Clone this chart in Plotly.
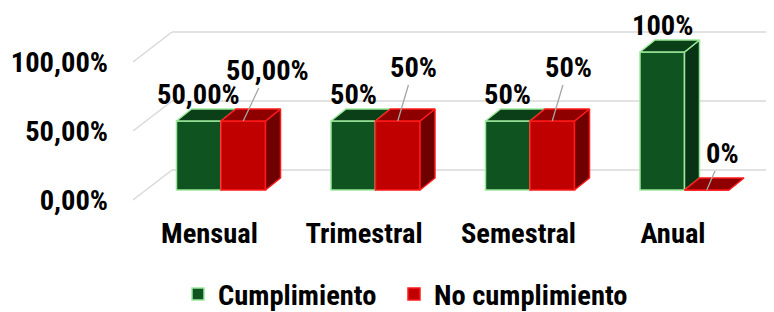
import plotly.graph_objects as go

# ---------------- data ----------------
categories = ["Mensual", "Trimestral", "Semestral", "Anual"]
cumplimiento = [0.50, 0.50, 0.50, 1.00]
no_cumplimiento = [0.50, 0.50, 0.50, 0.00]
cumplimiento_labels = ["50,00%", "50%", "50%", "100%"]
no_cumplimiento_labels = ["50,00%", "50%", "50%", "0%"]
y_ticks = [0.0, 0.5, 1.0]

# ---------------- style / geometry ----------------
FONT = "Roboto Condensed, Open Sans Condensed, Liberation Sans, sans-serif"
FS = 28.5
PAGE_OFF = 8                     # default body margin of the html page
W, H = 774 - PAGE_OFF, 312
ML, MR, MT = 133 - PAGE_OFF, 3, 20 - PAGE_OFF
MB = H - (205 - PAGE_OFF)
PW = W - ML - MR
PH = H - MT - MB
PX_X = 154.5          # px per category
PX_Y = 138.0          # px per 100 %
BAR_W = 0.288         # category units
DEPTH_X = 15 / PX_X   # 3D depth
DEPTH_Y = 12 / PX_Y

X0 = -88 / PX_X
X1 = X0 + PW / PX_X
SPAN_Y = PH / PX_Y
Y0 = -15 / PX_Y                 # bars (front faces)
YL0 = -5 / PX_Y                 # tick labels (front floor edge)
YG0 = -35 / PX_Y                # back wall grid
XLAB_SHIFT = 11.5 / PX_X        # category labels sit a bit left

GREEN = dict(front="#0E5320", top="#0A3F17", side="#083314", edge="#9BE89B")
RED = dict(front="#C00000", top="#8E0000", side="#6E0000", edge="#FF1A1A")
GRID = "#D9D9D9"
LEADER = "#A6A6A6"
red_dx = [24, 16, 16, 16]
red_dy = [-51, -54, -54, -37]

TXT = dict(family=FONT, size=FS, color="black", weight="bold")

idx = list(range(len(categories)))
fig = go.Figure()


def faces(values, left_offset, col, xa, ya):
    for i, v in zip(idx, values):
        xl = i + left_offset
        xr = xl + BAR_W
        if v > 0:
            fig.add_trace(go.Scatter(
                x=[xr, xr + DEPTH_X, xr + DEPTH_X, xr, xr],
                y=[0, DEPTH_Y, v + DEPTH_Y, v, 0],
                fill="toself", fillcolor=col["side"], mode="lines",
                line=dict(color=col["edge"], width=1.5),
                showlegend=False, hoverinfo="skip", xaxis=xa, yaxis=ya))
        fig.add_trace(go.Scatter(
            x=[xl, xr, xr + DEPTH_X, xl + DEPTH_X, xl],
            y=[v, v, v + DEPTH_Y, v + DEPTH_Y, v],
            fill="toself", fillcolor=col["top"], mode="lines",
            line=dict(color=col["edge"], width=1.5),
            showlegend=False, hoverinfo="skip", xaxis=xa, yaxis=ya))


# green series on main subplot
fig.add_trace(go.Bar(
    x=idx, y=cumplimiento, width=BAR_W, offset=-BAR_W, name="Cumplimiento",
    legend="legend",
    marker=dict(color=GREEN["front"], line=dict(color=GREEN["edge"], width=1.5)),
    xaxis="x", yaxis="y"))
faces(cumplimiento, -BAR_W, GREEN, "x", "y")

# invisible trace to carry the label axes
fig.add_trace(go.Scatter(x=[0], y=[0], mode="markers", marker=dict(opacity=0),
                         showlegend=False, hoverinfo="skip", xaxis="x2", yaxis="y2"))

# red series on overlay subplot (drawn above green)
fig.add_trace(go.Bar(
    x=idx, y=no_cumplimiento, width=BAR_W, offset=0, name="No cumplimiento",
    legend="legend2",
    marker=dict(color=RED["front"], line=dict(color=RED["edge"], width=1.5)),
    xaxis="x3", yaxis="y3"))
faces(no_cumplimiento, 0, RED, "x3", "y3")


def py(v, r0):
    return (v - r0) / SPAN_Y


xb = 39 / PW
shapes = []
for v in y_ticks:
    shapes.append(dict(type="line", xref="paper", yref="paper", x0=xb, x1=1,
                       y0=py(v, YG0), y1=py(v, YG0), line=dict(color=GRID, width=1.5),
                       layer="below"))
    shapes.append(dict(type="line", xref="paper", yref="paper", x0=0, x1=xb,
                       y0=py(v, YL0), y1=py(v, YG0), line=dict(color=GRID, width=1.5),
                       layer="below"))

annotations = []
for i, v, t in zip(idx, cumplimiento, cumplimiento_labels):
    annotations.append(dict(x=i - BAR_W / 2, y=v, xref="x", yref="y", text=t,
                            showarrow=False, yanchor="middle", yshift=27, font=TXT))
for i, v, t, dx, dy in zip(idx, no_cumplimiento, no_cumplimiento_labels, red_dx, red_dy):
    annotations.append(dict(x=i + BAR_W / 2, y=v, xref="x3", yref="y3", text=t,
                            showarrow=True, arrowhead=0, arrowwidth=1.3,
                            arrowcolor=LEADER, ax=dx, ay=dy, standoff=0, font=TXT))

hidden = dict(showgrid=False, zeroline=False, showticklabels=False, showline=False,
              ticks="", fixedrange=True, automargin=False)
leg = dict(orientation="h", xref="container", yref="container", y=0.0,
           xanchor="left", yanchor="bottom", font=TXT, bgcolor="rgba(0,0,0,0)")

fig.update_layout(
    width=W, height=H,
    margin=dict(l=ML, r=MR, t=MT, b=MB, autoexpand=False),
    paper_bgcolor="white", plot_bgcolor="white",
    separators=",.",
    barmode="overlay",
    font=TXT,
    xaxis=dict(range=[X0, X1], **hidden),
    yaxis=dict(range=[Y0, Y0 + SPAN_Y], **hidden),
    xaxis3=dict(range=[X0, X1], overlaying="x", anchor="y3", **hidden),
    yaxis3=dict(range=[Y0, Y0 + SPAN_Y], overlaying="y", anchor="x3", **hidden),
    xaxis2=dict(range=[X0 + XLAB_SHIFT, X1 + XLAB_SHIFT], overlaying="x", anchor="y2",
                tickvals=idx, ticktext=categories, showgrid=False, zeroline=False,
                showline=False, ticks="", ticklabelstandoff=8, fixedrange=True,
                automargin=False, tickfont=TXT),
    yaxis2=dict(range=[YL0, YL0 + SPAN_Y], overlaying="y", anchor="x2", side="left",
                tickvals=y_ticks, tickformat=".2%", showgrid=False, zeroline=False,
                showline=False, ticks="", ticklabelstandoff=24, fixedrange=True,
                automargin=False, tickfont=TXT),
    shapes=shapes,
    annotations=annotations,
    showlegend=True,
    legend=dict(x=170 / W, **leg),
    legend2=dict(x=386 / W, **leg),
)

fig.write_html("out.html")
